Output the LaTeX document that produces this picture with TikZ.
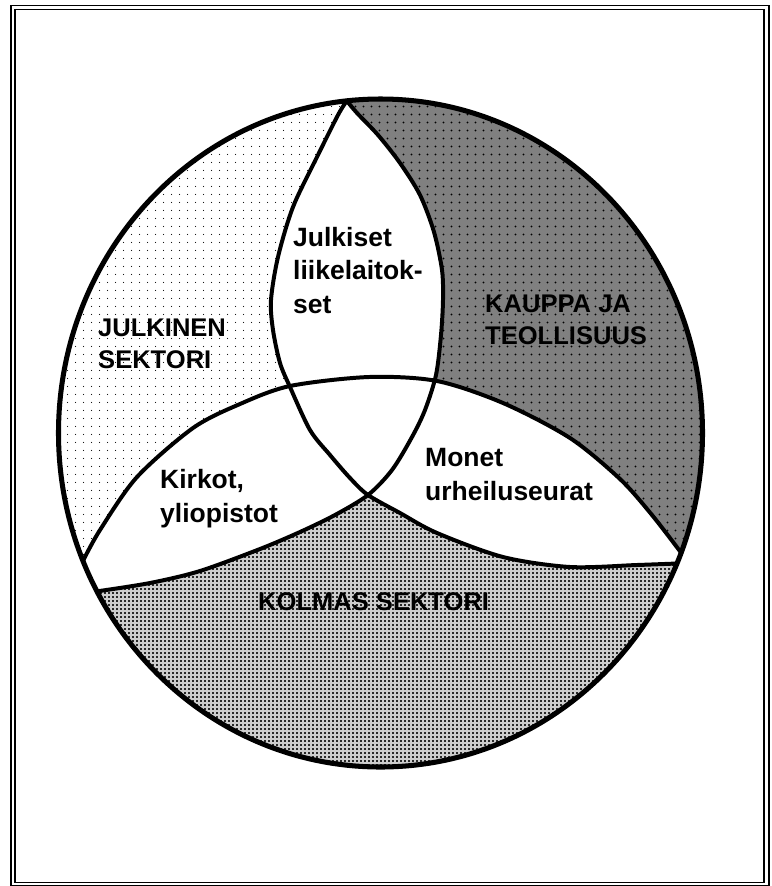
\documentclass[tikz,border=0pt]{standalone}
\usepackage{fontspec}
\setmainfont{Liberation Sans}
\usetikzlibrary{patterns}

% fill patterns of the three sectors
\pgfdeclarepatternformonly{sparse dots}{\pgfqpoint{0pt}{0pt}}{\pgfqpoint{6.83pt}{6.83pt}}{\pgfqpoint{6.83pt}{6.83pt}}{%
  \pgfpathcircle{\pgfqpoint{3.4pt}{3.4pt}}{0.55pt}\pgfusepath{fill}}
\pgfdeclarepatternformonly{plus dots}{\pgfqpoint{0pt}{0pt}}{\pgfqpoint{6.83pt}{6.83pt}}{\pgfqpoint{6.83pt}{6.83pt}}{%
  \pgfpathrectangle{\pgfqpoint{2.5pt}{3.1pt}}{\pgfqpoint{1.8pt}{0.6pt}}%
  \pgfpathrectangle{\pgfqpoint{3.1pt}{2.5pt}}{\pgfqpoint{0.6pt}{1.8pt}}\pgfusepath{fill}}
\pgfdeclarepatternformonly{small crosses}{\pgfqpoint{0pt}{0pt}}{\pgfqpoint{3.4pt}{3.4pt}}{\pgfqpoint{3.4pt}{3.4pt}}{%
  \pgfsetlinewidth{0.45pt}%
  \pgfpathmoveto{\pgfqpoint{0.7pt}{0.7pt}}\pgfpathlineto{\pgfqpoint{2.7pt}{2.7pt}}%
  \pgfpathmoveto{\pgfqpoint{0.7pt}{2.7pt}}\pgfpathlineto{\pgfqpoint{2.7pt}{0.7pt}}%
  \pgfusepath{stroke}}

% boundary lines of the sectors
\newcommand{\publicline}{plot[smooth] coordinates {(346.8,100.8) (357,113) (378,135) (400,163) (420,195)
  (434,232) (442,270) (443,300) (441,335) (436,375) (425,410) (412,437) (392,470) (368,495)
  (335,515) (300,532) (260,549) (200,571) (150,583) (96.98,591.35)}}
\newcommand{\tradeline}{plot[smooth] coordinates {(346.8,100.8) (338,115) (317,157) (293,207)
  (278,257) (271,300) (273,330) (280,363) (290,387) (310,430) (330,455) (350,478) (368,495)
  (400,513) (437,533) (503,557) (570,567) (637,565) (676.9,563.5)}}
\newcommand{\thirdline}{plot[smooth] coordinates {(83.01,560.82) (100,530) (137,477) (193,428)
  (240,404) (290,386) (369,377) (437,381) (503,403) (570,438) (620,479) (652,515) (681.1,552.7)}}

\newcommand{\publicarea}{\publicline arc[rimarc, start angle=151.7, end angle=264] -- cycle}
\newcommand{\tradearea}{\tradeline arc[rimarc, start angle=23, end angle=-96] -- cycle}
\newcommand{\thirdarea}{\thirdline arc[rimarc, start angle=21, end angle=157.5] -- cycle}

\begin{document}
\begin{tikzpicture}[
    x=0.03cm, y=-0.03cm,
    frame/.style={draw=black, line width=1.5pt},
    rim/.style={draw=black, line width=4.3pt},
    divider/.style={draw=black, line width=3.4pt, line cap=round, line join=round},
    rimarc/.style={x radius=322, y radius=334},
    publicfill/.style={pattern=sparse dots},
    tradefill/.style={fill=black!50, postaction={pattern=plus dots}},
    thirdfill/.style={fill=black!12, postaction={pattern=small crosses}},
    overlap/.style={
        anchor=base west,
        inner sep=0pt,
        align=left,
        font=\bfseries\fontsize{22.6pt}{28.2pt}\selectfont
    },
    sector/.style={
        anchor=base west,
        inner sep=0pt,
        align=left,
        font=\bfseries\fontsize{21.8pt}{27.3pt}\selectfont
    }
]
\useasboundingbox (0,0) rectangle (771,886);

% ============================================
% Double frame
% ============================================
\draw[frame] (11,5.5) rectangle (769,885.5);
\draw[frame] (15,9.5) rectangle (764.3,882.5);

% ============================================
% Sector fills
% ============================================
\path[publicfill] \publicarea;
\path[tradefill] \tradearea;
\path[thirdfill] \thirdarea;

% overlaps stay white
\begin{scope}
    \clip \publicarea;
    \fill[white] \tradearea;
    \fill[white] \thirdarea;
\end{scope}
\begin{scope}
    \clip \tradearea;
    \fill[white] \thirdarea;
\end{scope}

% ============================================
% Boundaries
% ============================================
\draw[divider] \publicline;
\draw[divider] \tradeline;
\draw[divider] \thirdline;
\draw[rim] (380.5,433) ellipse [rimarc];

% ============================================
% Labels (anchored at the last baseline)
% ============================================
\node[sector] (julkinen) at (98,368) {JULKINEN\\SEKTORI};
\node[sector] (kauppa) at (485,344) {KAUPPA JA\\TEOLLISUUS};
\node[sector] (kolmas) at (258,610) {KOLMAS SEKTORI};

\node[overlap] (liikelaitokset) at (293,313) {Julkiset\\liikelaitok-\\set};
\node[overlap] (kirkot) at (160,522) {Kirkot,\\yliopistot};
\node[overlap] (urheiluseurat) at (425,500) {Monet\\urheiluseurat};

\end{tikzpicture}
\end{document}
